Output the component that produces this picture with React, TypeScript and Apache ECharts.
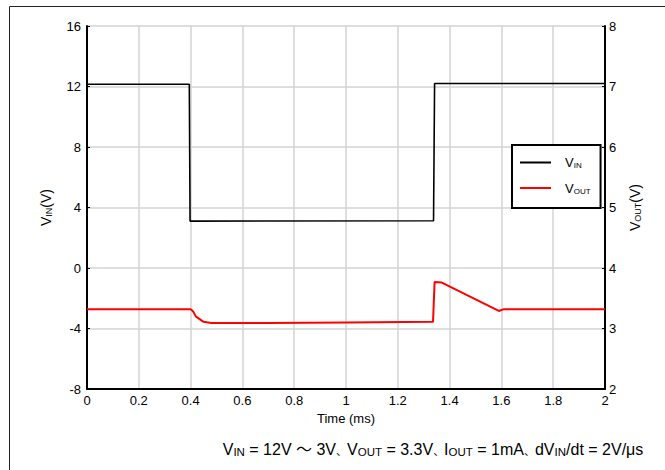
import React, { useEffect, useRef } from "react";
import * as echarts from "echarts";

// Time (ms) and values
const vinTime = [0, 0.395, 0.398, 1.338, 1.342, 2];
const vinValues = [12.15, 12.15, 3.1, 3.12, 12.2, 12.2];

const voutTime = [0, 0.4, 0.41, 0.42, 0.45, 0.48, 0.7, 1.0, 1.336, 1.342, 1.37, 1.59, 1.61, 2];
const voutValues = [3.32, 3.32, 3.28, 3.2, 3.11, 3.09, 3.09, 3.1, 3.11, 3.77, 3.76, 3.29, 3.32, 3.32];

const xTicks = { min: 0, max: 2, interval: 0.2 };
const leftTicks = { min: -8, max: 16, interval: 4 };
const rightTicks = { min: 2, max: 8, interval: 1 };

const FONT = "'Liberation Sans', Arial, 'Noto Sans CJK SC', sans-serif";

export default function App() {
  const ref = useRef<HTMLDivElement>(null);
  useEffect(() => {
    document.body.style.margin = "0";
    const chart = echarts.init(ref.current!, null, { renderer: "svg" });
    const sub = { fontSize: 9, fontFamily: FONT, color: "#000", verticalAlign: "bottom", padding: [6, 0, 0, 0] };
    const main = { fontSize: 14, fontFamily: FONT, color: "#000" };
    const capMain = { fontSize: 16, fontFamily: FONT, color: "#000" };
    const capSep = { fontSize: 11, fontFamily: FONT, color: "#000", padding: [4, 0, 0, 0] };
    const capSub = { fontSize: 11.5, fontFamily: FONT, color: "#000", padding: [6, 0, 0, 0] };
    chart.setOption({
      animation: false,
      textStyle: { fontFamily: FONT, color: "#000" },
      grid: { left: 87, right: 60, top: 26, bottom: 81, containLabel: false },
      legend: {
        orient: "vertical",
        left: 512,
        top: 145,
        backgroundColor: "#fff",
        borderColor: "#000",
        borderWidth: 2,
        borderRadius: 0,
        padding: [11, 10, 13, 8],
        itemWidth: 31,
        itemHeight: 14,
        itemGap: 12,
        icon: "path://M0,6L31,6L31,8L0,8Z",
        data: ["VIN", "VOUT"],
        formatter: (n: string) => (n === "VIN" ? "{m|V}{s|IN}" : "{m|V}{s|OUT}"),
        textStyle: {
          padding: [0, 0, 0, 9],
          rich: {
            m: { fontSize: 13, fontFamily: FONT, color: "#000" },
            s: { fontSize: 8, fontFamily: FONT, color: "#000", padding: [6, 0, 0, 0] },
          },
        },
      },
      xAxis: {
        type: "value",
        min: xTicks.min,
        max: xTicks.max,
        interval: xTicks.interval,
        name: "Time (ms)",
        nameLocation: "middle",
        nameGap: 20,
        nameTextStyle: { fontSize: 13, fontFamily: FONT, color: "#000" },
        axisLine: { onZero: false, lineStyle: { color: "#000", width: 2 } },
        axisTick: { show: false },
        axisLabel: {
          fontSize: 13,
          color: "#000",
          margin: 5,
          formatter: (v: number) => String(+v.toFixed(1)),
        },
        splitLine: { show: true, lineStyle: { color: "#d3d3d3", width: 1.5 } },
      },
      yAxis: [
        {
          type: "value",
          position: "left",
          min: leftTicks.min,
          max: leftTicks.max,
          interval: leftTicks.interval,
          name: "{m|V}{s|IN}{m|(V)}",
          nameLocation: "middle",
          nameRotate: 90,
          nameGap: 34,
          nameTextStyle: { rich: { m: main, s: sub } },
          axisLine: { show: true, onZero: false, lineStyle: { color: "#000", width: 2 } },
          axisTick: { show: true, inside: true, length: 3, lineStyle: { color: "#000", width: 1 } },
          axisLabel: { fontSize: 13, color: "#000", margin: 6 },
          splitLine: { show: true, lineStyle: { color: "#d3d3d3", width: 1.5 } },
        },
        {
          type: "value",
          position: "right",
          min: rightTicks.min,
          max: rightTicks.max,
          interval: rightTicks.interval,
          name: "{m|V}{s|OUT}{m|(V)}",
          nameLocation: "middle",
          nameRotate: 90,
          nameGap: 22,
          nameTextStyle: { rich: { m: main, s: sub } },
          axisLine: { show: true, onZero: false, lineStyle: { color: "#000", width: 2 } },
          axisTick: { show: true, inside: true, length: 3, lineStyle: { color: "#000", width: 1 } },
          axisLabel: { fontSize: 13, color: "#000", margin: 4 },
          splitLine: { show: false },
        },
      ],
      series: [
        {
          name: "VIN",
          type: "line",
          yAxisIndex: 0,
          showSymbol: false,
          symbol: "none",
          color: "#000",
          lineStyle: { color: "#000", width: 1.6 },
          data: vinTime.map((t, i) => [t, vinValues[i]]),
        },
        {
          name: "VOUT",
          type: "line",
          yAxisIndex: 1,
          showSymbol: false,
          symbol: "none",
          color: "#ff0000",
          lineStyle: { color: "#ff0000", width: 2 },
          data: voutTime.map((t, i) => [t, voutValues[i]]),
        },
      ],
      graphic: [
        {
          type: "rect",
          left: 7,
          top: 4,
          shape: { x: 0, y: 0, width: 700, height: 500 },
          style: { fill: "none", stroke: "#222", lineWidth: 1 },
          silent: true,
          z: -1,
        },
        {
          type: "text",
          x: 433,
          y: 449,
          style: {
            text: "{m|V}{s|IN}{m| = 12V ～ 3V}{c|、}{m|V}{s|OUT}{m| = 3.3V}{c|、}{m|I}{s|OUT}{m| = 1mA}{c|、}{m|dV}{s|IN}{m|/dt = 2V/μs}",
            align: "center",
            verticalAlign: "middle",
            rich: { m: capMain, s: capSub, c: capSep },
          },
        },
      ],
    });
    return () => chart.dispose();
  }, []);
  return <div ref={ref} style={{ width: 665, height: 470 }} />;
}
